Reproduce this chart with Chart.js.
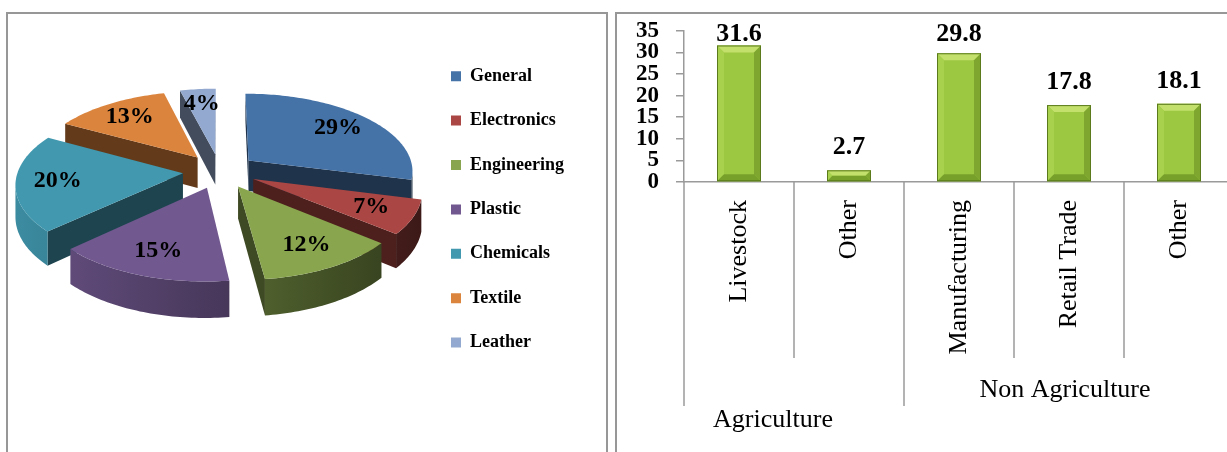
<!DOCTYPE html>
<html>
<head>
<meta charset="utf-8">
<title>Sectors</title>
<script src="https://cdn.jsdelivr.net/npm/chart.js@4.4.1/dist/chart.umd.min.js"></script>
<style>
  html, body { margin: 0; padding: 0; background: #fff; overflow: hidden; }
  body { width: 1227px; height: 452px; position: relative; }
  .panel { position: absolute; top: 12px; height: 470px; border: 2px solid #979797; overflow: hidden; background: #fff; }
  #left { left: 6px; width: 598px; }
  #right { left: 615px; width: 660px; }
  canvas { position: absolute; left: 0; }
</style>
</head>
<body>
<div class="panel" id="left"><canvas id="pieChart" width="598" height="492" style="top:-54px"></canvas></div>
<div class="panel" id="right"><canvas id="barChart" width="640" height="452" style="top:-14px"></canvas></div>
<script>
// industry share (%)
const industries = ["General", "Electronics", "Engineering", "Plastic", "Chemicals", "Textile", "Leather"];
const industryShare = [29, 7, 12, 15, 20, 13, 4];
const industryColors = ["#4572A7", "#AA4643", "#89A54E", "#71588F", "#4198AF", "#DB843D", "#93A9CF"];

// activity groups and their values
const activities = ["Livestock", "Other", "Manufacturing", "Retail Trade", "Other"];
const activityValues = [31.6, 2.7, 29.8, 17.8, 18.1];
const groupNames = ["Agriculture", "Non Agriculture"];
const groupSizes = [2, 3];
const yTicks = [0, 5, 10, 15, 20, 25, 30, 35];

Chart.defaults.font.family = "'Liberation Serif', 'Times New Roman', serif";
Chart.defaults.color = "#000";

function shade(hex, f) {
    const n = parseInt(hex.slice(1), 16);
    const r = Math.round(((n >> 16) & 255) * f);
    const g = Math.round(((n >> 8) & 255) * f);
    const b = Math.round((n & 255) * f);
    return "rgb(" + r + "," + g + "," + b + ")";
}

function fillPoly(ctx, pts, style) {
    ctx.beginPath();
    ctx.moveTo(pts[0][0], pts[0][1]);
    for (let i = 1; i < pts.length; i++) ctx.lineTo(pts[i][0], pts[i][1]);
    ctx.closePath();
    ctx.fillStyle = style;
    ctx.fill();
}

// draws the pie arcs as tilted, exploded 3D slices
const pie3d = {
    id: "pie3d",
    beforeDatasetsDraw(chart, args, opts) {
        const ctx = chart.ctx;
        const arcs = chart.getDatasetMeta(0).data;
        const ds = chart.data.datasets[0];
        const cx = arcs[0].x, cy = arcs[0].y, R = arcs[0].outerRadius;
        const camV = R / opts.perspective;
        const D = opts.depth;
        const proj = (u, v, z) => {
            const s = 1 / (1 - v / camV);
            return [cx + u * s, cy + (opts.tilt * v + z) * s];
        };
        const facing = (nu, nv, pu, pv) => nu * (0 - pu) + nv * (camV - pv) > 0;

        const slices = arcs.map((a, i) => {
            const m = (a.startAngle + a.endAngle) / 2;
            const d = a.options.offset;
            return { i, a, m, su: d * Math.cos(m), sv: d * Math.sin(m) };
        }).sort((p, q) => Math.sin(p.m) - Math.sin(q.m));

        ctx.save();
        slices.forEach(sl => {
            const { a, su, sv } = sl;
            const col = ds.backgroundColor[sl.i];
            const t1 = a.startAngle, t2 = a.endAngle;
            const n = Math.max(2, Math.ceil((t2 - t1) / 0.02));
            const rim = [];
            for (let k = 0; k <= n; k++) {
                const t = t1 + (t2 - t1) * k / n;
                rim.push([su + R * Math.cos(t), sv + R * Math.sin(t), t]);
            }

            // cut faces
            const walls = [];
            if (facing(Math.sin(t1), -Math.cos(t1), su, sv)) walls.push(rim[0]);
            if (facing(-Math.sin(t2), Math.cos(t2), su, sv)) walls.push(rim[n]);
            walls.forEach(p => fillPoly(ctx, [proj(su, sv, 0), proj(p[0], p[1], 0), proj(p[0], p[1], D), proj(su, sv, D)], shade(col, opts.wallShade)));

            // outer rim
            const vis = rim.filter(p => facing(Math.cos(p[2]), Math.sin(p[2]), p[0], p[1]));
            if (vis.length > 1) {
                const grad = ctx.createLinearGradient(cx - R * 1.25, 0, cx + R * 1.25, 0);
                grad.addColorStop(0, shade(col, 0.92));
                grad.addColorStop(1, shade(col, 0.35));
                const pts = vis.map(p => proj(p[0], p[1], 0))
                    .concat(vis.slice().reverse().map(p => proj(p[0], p[1], D)));
                fillPoly(ctx, pts, grad);
            }

            // top face
            fillPoly(ctx, [proj(su, sv, 0)].concat(rim.map(p => proj(p[0], p[1], 0))), col);
        });

        // percentage labels
        ctx.font = "bold 24px 'Liberation Serif', serif";
        ctx.fillStyle = "#000";
        ctx.textAlign = "center";
        ctx.textBaseline = "middle";
        slices.forEach(sl => {
            const f = opts.labelAt * R;
            const p = proj(sl.su + f * Math.cos(sl.m), sl.sv + f * Math.sin(sl.m), 0);
            ctx.fillText(ds.data[sl.i] + "%", p[0], p[1]);
        });
        ctx.restore();
        return false;
    }
};

new Chart(document.getElementById("pieChart"), {
    type: "pie",
    data: {
        labels: industries,
        datasets: [{
            data: industryShare,
            backgroundColor: industryColors,
            borderWidth: 0,
            offset: 37,
            radius: 165
        }]
    },
    options: {
        responsive: false,
        animation: false,
        layout: { padding: { left: 7, right: 32, top: 4, bottom: 74 } },
        plugins: {
            tooltip: { enabled: false },
            legend: {
                position: "right",
                align: "end",
                labels: {
                    boxWidth: 10,
                    boxHeight: 10,
                    padding: 26.4,
                    color: "#000",
                    font: { size: 18, weight: "bold" }
                }
            },
            pie3d: { tilt: 0.47, perspective: 0.124, depth: 31, wallShade: 0.45, labelAt: 0.75 }
        }
    },
    plugins: [pie3d]
});

// bevelled look for the bars
const bevel = {
    id: "bevel",
    afterDatasetsDraw(chart) {
        const ctx = chart.ctx;
        ctx.save();
        chart.getDatasetMeta(0).data.forEach(bar => {
            const { x, y, base, width } = bar.getProps(["x", "y", "base", "width"], true);
            const l = x - width / 2, r = x + width / 2;
            const e = Math.min(7, (base - y) / 2);
            fillPoly(ctx, [[l, y], [r, y], [r - e, y + e], [l + e, y + e]], "#c3e06c");
            fillPoly(ctx, [[l, y], [l + e, y + e], [l + e, base - e], [l, base]], "#a8d24e");
            fillPoly(ctx, [[r, y], [r, base], [r - e, base - e], [r - e, y + e]], "#7fa72f");
            fillPoly(ctx, [[l, base], [l + e, base - e], [r - e, base - e], [r, base]], "#77a02b");
            ctx.strokeStyle = "#5a7a1c";
            ctx.lineWidth = 1;
            ctx.strokeRect(l + 0.5, y + 0.5, width - 1, base - y - 1);
        });
        ctx.restore();
    }
};

// value labels above each bar, kept inside the plot top
const barValues = {
    id: "barValues",
    afterDatasetsDraw(chart) {
        const ctx = chart.ctx;
        const top = chart.chartArea.top;
        ctx.save();
        ctx.font = "bold 26px 'Liberation Serif', serif";
        ctx.fillStyle = "#000";
        ctx.textAlign = "center";
        ctx.textBaseline = "middle";
        chart.getDatasetMeta(0).data.forEach((bar, i) => {
            ctx.fillText(String(activityValues[i]), bar.x, Math.max(bar.y - 23, top + 3));
        });
        ctx.restore();
    }
};

// second level of the category axis: separators and group names
const groupAxis = {
    id: "groupAxis",
    afterDraw(chart, args, opts) {
        const ctx = chart.ctx;
        const xs = chart.scales.x;
        const bottom = chart.chartArea.bottom;
        const half = (xs.getPixelForValue(1) - xs.getPixelForValue(0)) / 2;
        const line = (x, len) => {
            ctx.beginPath();
            ctx.moveTo(x, bottom);
            ctx.lineTo(x, bottom + len);
            ctx.stroke();
        };
        ctx.save();
        ctx.strokeStyle = opts.color;
        ctx.lineWidth = 1.5;
        ctx.font = "26px 'Liberation Serif', serif";
        ctx.fillStyle = "#000";
        ctx.textAlign = "center";
        ctx.textBaseline = "middle";
        let idx = 0;
        groupNames.forEach((name, g) => {
            const first = idx, last = idx + groupSizes[g] - 1;
            const left = xs.getPixelForValue(first) - half;
            const right = xs.getPixelForValue(last) + half;
            for (let i = first + 1; i <= last; i++) line(xs.getPixelForValue(i) - half, opts.innerDrop);
            line(left, opts.groupDrop);
            if (g === groupNames.length - 1) line(right, opts.groupDrop);
            const row = opts.labelRows[g];
            ctx.fillText(name, (left + right) / 2 + row.dx, bottom + row.dy);
            idx += groupSizes[g];
        });
        ctx.restore();
    }
};

new Chart(document.getElementById("barChart"), {
    type: "bar",
    data: {
        labels: activities,
        datasets: [{
            data: activityValues,
            backgroundColor: "#9cc741",
            borderWidth: 0,
            categoryPercentage: 1,
            barPercentage: 0.4
        }]
    },
    options: {
        responsive: false,
        animation: false,
        layout: { padding: { left: 2, right: 23, top: 0, bottom: 88 } },
        plugins: {
            legend: { display: false },
            tooltip: { enabled: false },
            groupAxis: {
                color: "#9a9a9a",
                innerDrop: 176,
                groupDrop: 224,
                labelRows: [{ dx: -21, dy: 238 }, { dx: -4, dy: 208 }]
            }
        },
        scales: {
            x: {
                offset: true,
                grid: { display: false, drawTicks: false },
                border: { display: true, color: "#9a9a9a", width: 1.5 },
                ticks: {
                    minRotation: 90,
                    maxRotation: 90,
                    autoSkip: false,
                    padding: 18,
                    color: "#000",
                    font: { size: 26 }
                }
            },
            y: {
                min: 0,
                max: 35,
                afterBuildTicks: axis => { axis.ticks = yTicks.map(v => ({ value: v })); },
                grid: { drawOnChartArea: false, drawTicks: true, tickLength: 8, color: "#9a9a9a", lineWidth: 1.5 },
                border: { display: true, color: "#9a9a9a", width: 1.5 },
                ticks: {
                    autoSkip: false,
                    padding: 17,
                    color: "#000",
                    font: { size: 23, weight: "bold" }
                }
            }
        }
    },
    plugins: [bevel, barValues, groupAxis]
});
</script>
</body>
</html>
